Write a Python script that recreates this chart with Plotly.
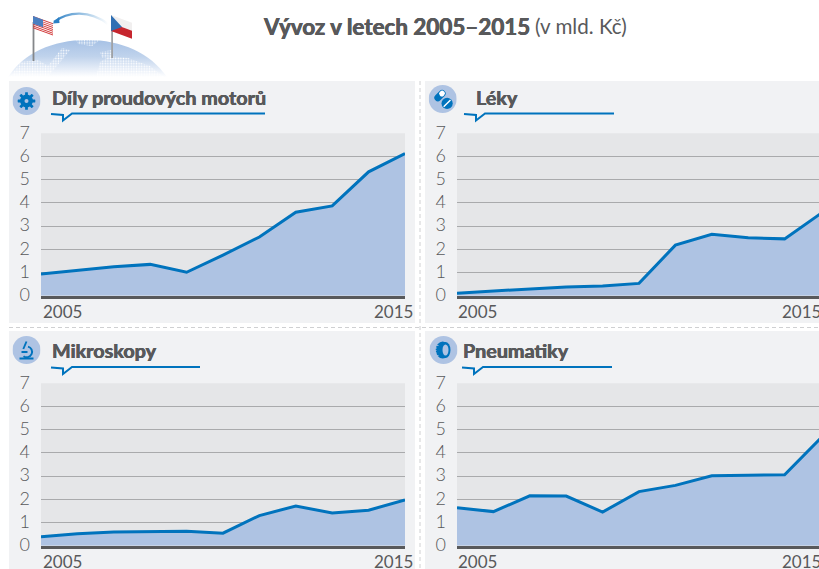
import base64
import plotly.graph_objects as go

years = list(range(2005, 2016))
y_ticks = [0, 1, 2, 3, 4, 5, 6, 7]
titles = ["Díly proudových motorů", "Léky", "Mikroskopy", "Pneumatiky"]
motory = [0.93, 1.09, 1.25, 1.35, 1.01, 1.75, 2.53, 3.60, 3.87, 5.34, 6.13]
leky = [0.11, 0.20, 0.28, 0.38, 0.42, 0.53, 2.18, 2.65, 2.50, 2.45, 3.55]
mikroskopy = [0.38, 0.52, 0.59, 0.62, 0.62, 0.54, 1.30, 1.71, 1.41, 1.53, 1.97]
pneumatiky = [1.64, 1.47, 2.15, 2.14, 1.45, 2.33, 2.60, 3.01, 3.04, 3.06, 4.65]
series = [motory, leky, mikroskopy, pneumatiky]

W, H = 819, 569
FONT = "Lato"
GREY = "#58595b"
BLUE = "#0073bd"
AREA = "#aec3e3"
PANEL = "#f1f2f4"
PLOT = "#e5e6e8"
STEP = 36.4
HEAVY = f"0.35px 0 0 {GREY}, -0.35px 0 0 {GREY}"


def px(v):
    return v / W


def py(v):
    return 1 - v / H


def uri(svg):
    return "data:image/svg+xml;base64," + base64.b64encode(svg.encode()).decode()


def icon(body):
    return uri(
        f'<svg xmlns="http://www.w3.org/2000/svg" width="56" height="56" viewBox="0 0 28 28">'
        f'<circle cx="14" cy="14" r="14" fill="{AREA}"/>{body}</svg>'
    )


gear = (
    f'<g fill="{BLUE}"><circle cx="14" cy="14" r="6.4"/>'
    + "".join(
        f'<rect x="12.6" y="5.2" width="2.8" height="17.6" rx="0.4" transform="rotate({a} 14 14)"/>'
        for a in (0, 45, 90, 135)
    )
    + f'</g><circle cx="14" cy="14" r="2" fill="{AREA}"/>'
)
pills = (
    f'<g transform="rotate(-45 11 11)"><rect x="5" y="7.4" width="13" height="7" rx="3.5" fill="{BLUE}"/>'
    f'<rect x="11.5" y="8.2" width="5.8" height="5.4" rx="2.6" fill="#fff"/></g>'
    f'<circle cx="18.4" cy="18.4" r="5.6" fill="{BLUE}"/>'
    f'<path d="M15 21.8 L21.8 15" stroke="#fff" stroke-width="1.4"/>'
)
scope = (
    f'<g fill="none" stroke="{BLUE}" stroke-width="1.9"><path d="M7 22.5H21"/>'
    f'<path d="M15.5 10.6a5.4 5.4 0 1 1 -4.5 9.6"/><path d="M14 5.5 L10.8 13"/>'
    f'<path d="M9 16H15"/></g>'
)
tire = (
    f'<ellipse cx="13.2" cy="14" rx="7" ry="8.6" fill="{BLUE}"/>'
    f'<ellipse cx="15.8" cy="14" rx="5.2" ry="8" fill="{BLUE}"/>'
    f'<ellipse cx="16" cy="14" rx="3" ry="5.6" fill="{AREA}"/>'
    f'<path d="M9 9.5 L7 9.5 M7.5 12 H5.5 M7 14.5 H5.5 M7.5 17 H5.5 M9 19.5 H7" stroke="{AREA}" stroke-width="0.8"/>'
)

stripes = "".join(
    f'<rect x="0" y="{i * 1.85:.2f}" width="20" height="0.93" fill="#d23b3b"/>' for i in range(7)
)
logo_svg = f'''<svg xmlns="http://www.w3.org/2000/svg" width="170" height="80" viewBox="0 0 170 80">
<defs>
<linearGradient id="g" x1="0" y1="0" x2="0" y2="1"><stop offset="0" stop-color="#a6c1e5"/><stop offset="0.45" stop-color="#c0d3ec"/><stop offset="0.82" stop-color="#eaf0f9"/><stop offset="1" stop-color="#ffffff"/></linearGradient>
<linearGradient id="a" x1="0" y1="0" x2="1" y2="0"><stop offset="0" stop-color="#2b7fc4"/><stop offset="1" stop-color="#2b7fc4" stop-opacity="0"/></linearGradient>
<pattern id="d" width="2.6" height="2.6" patternUnits="userSpaceOnUse"><circle cx="1.3" cy="1.3" r="0.8" fill="#fff"/></pattern>
<clipPath id="c"><path d="M8 77 C24 53 52 40 87 40 C122 40 150 53 167 77 Z"/></clipPath>
</defs>
<path d="M8 77 C24 53 52 40 87 40 C122 40 150 53 167 77 Z" fill="url(#g)"/>
<g clip-path="url(#c)" fill="url(#d)">
<path d="M10 78 L20 62 L38 60 L48 66 L62 48 L70 50 L62 60 L50 74 L46 78 Z"/>
<path d="M96 78 L100 62 L110 56 L128 58 L150 66 L165 78 Z"/>
<path d="M76 40 L100 40 L92 46 L78 44 Z"/>
<path d="M100 52 L112 50 L112 58 L102 58 Z"/>
</g>
<rect x="32.6" y="22" width="1.8" height="39" fill="#85878a"/>
<rect x="111.2" y="18" width="1.8" height="40" fill="#a0a2a5"/>
<g transform="translate(33 16) skewY(20) scale(1 1.02)">{stripes}<rect x="0" y="0" width="10" height="7.5" fill="#4a7fc0"/></g>
<g transform="translate(111 15) skewY(20)"><rect width="21" height="8" fill="#f1efef"/><rect y="8" width="21" height="8" fill="#c6262e"/><path d="M0 0 L11 8 L0 16 Z" fill="#2f6fb3"/></g>
<path d="M54 22 C68 11 90 10 108 24" fill="none" stroke="url(#a)" stroke-width="2.4"/>
<path d="M52.5 23.5 L59 17 L59.5 23 Z" fill="#2b7fc4"/>
</svg>'''

# panel geometry: x0 of plot, x1 of axes, top and zero-line y, in page pixels
plots = [(41, 405, 133.3, 295.7), (457, 819, 133.3, 295.7), (41, 405, 383.3, 545.7), (457, 819, 383.3, 545.7)]
panels = [(9, 415, 81, 323), (425, 819, 81, 323), (9, 415, 331, 569), (425, 819, 331, 569)]
rules = [(51, 265, 113.5), (464, 614, 113.5), (51, 200, 367), (462, 612, 367)]
title_x = [50, 473.5, 50, 461]
title_y = [97, 97, 350, 350]
icons = [(26.5, 101, gear), (442.7, 99, pills), (26.5, 350, scope), (443.5, 350, tire)]
y2005 = [311, 311, 561, 561]
x2005 = [41, 456, 41, 456]
x2015 = [372, 780, 372, 780]

fig = go.Figure()
shapes, annos, images = [], [], []

for x0, x1, y0, y1 in panels:
    shapes.append(dict(type="rect", xref="paper", yref="paper", layer="below", x0=px(x0), x1=px(x1),
                       y0=py(y1), y1=py(y0), fillcolor=PANEL, line_width=0))
for x0, x1, y0, y1 in plots:
    shapes.append(dict(type="rect", xref="paper", yref="paper", layer="below", x0=px(x0), x1=px(x1),
                       y0=py(y1), y1=py(y0), fillcolor=PLOT, line_width=0))
for a, b, c, d in [(420, 420, 81, 569), (9, 819, 327.5, 327.5)]:
    shapes.append(dict(type="line", xref="paper", yref="paper", layer="below", x0=px(a), x1=px(b),
                       y0=py(c), y1=py(d), line=dict(color="#cfd0d2", width=1, dash="4px,3px")))

for i, vals in enumerate(series):
    n = "" if i == 0 else str(i + 1)
    x0, x1, top, zero = plots[i]
    fig.add_trace(go.Scatter(x=years, y=vals, xaxis=f"x{n}", yaxis=f"y{n}", mode="lines", fill="tozeroy",
                             fillcolor=AREA, line=dict(color=BLUE, width=3), cliponaxis=False,
                             hoverinfo="skip", showlegend=False))
    fig.update_layout({
        f"xaxis{n}": dict(domain=[px(x0), px(x1)], range=[2005, 2005 + (x1 - x0) / STEP], anchor=f"y{n}",
                          showgrid=False, zeroline=False, showticklabels=False, ticks="", showline=True,
                          linecolor=GREY, linewidth=3, fixedrange=True, automargin=False),
        f"yaxis{n}": dict(domain=[py(zero), py(top)], range=[0, 7], anchor=f"x{n}", tickvals=y_ticks,
                          showgrid=True, gridcolor="#a9aaac", gridwidth=1, zeroline=False, showline=False,
                          ticks="", ticklabelstandoff=10, ticklabelshift=-1, fixedrange=True, automargin=False,
                          tickfont=dict(family=FONT, size=18, color=GREY, weight=300)),
    })
    annos.append(dict(xref="paper", yref="paper", x=px(title_x[i]), y=py(title_y[i]), text=titles[i],
                      xanchor="left", yanchor="middle", showarrow=False,
                      font=dict(family=FONT, size=19.8, color=GREY, weight=700, shadow=HEAVY)))
    for txt, tx in ((str(years[0]), x2005[i]), (str(years[-1]), x2015[i])):
        annos.append(dict(xref="paper", yref="paper", x=px(tx), y=py(y2005[i]), text=txt, xanchor="left",
                          yanchor="middle", showarrow=False,
                          font=dict(family=FONT, size=17, color=GREY, weight=400)))
    ra, rb, ry = rules[i]
    shapes.append(dict(type="path", xref="paper", yref="paper",
                       path=f"M{px(ra)},{py(ry + .5)} L{px(ra + 12)},{py(ry + 1.5)} L{px(ra + 12)},{py(ry + 7)} "
                            f"L{px(ra + 21)},{py(ry)} L{px(rb)},{py(ry)}",
                       line=dict(color=BLUE, width=2)))
    cx, cy, glyph = icons[i]
    images.append(dict(source=icon(glyph), xref="paper", yref="paper", x=px(cx - 14), y=py(cy - 14),
                       sizex=28 / W, sizey=28 / H, sizing="stretch", xanchor="left", yanchor="top", layer="above"))

images.append(dict(source=uri(logo_svg), xref="paper", yref="paper", x=0, y=1, sizex=170 / W, sizey=80 / H,
                   sizing="stretch", xanchor="left", yanchor="top", layer="above"))

annos.append(dict(xref="paper", yref="paper", x=px(260.5), y=py(26), xanchor="left", yanchor="middle", showarrow=False,
                  text="Vývoz v letech 2005–2015",
                  font=dict(family=FONT, size=22.4, color=GREY, weight=700, shadow=HEAVY)))
annos.append(dict(xref="paper", yref="paper", x=px(533), y=py(26), xanchor="left", yanchor="middle", showarrow=False,
                  text="(v mld. Kč)", font=dict(family=FONT, size=20.6, color=GREY)))

fig.update_layout(width=W, height=H, margin=dict(l=0, r=0, t=0, b=0, autoexpand=False), paper_bgcolor="#ffffff",
                  plot_bgcolor="rgba(0,0,0,0)", shapes=shapes, annotations=annos, images=images,
                  showlegend=False, font=dict(family=FONT))
fig.write_html("out.html", config={"displayModeBar": False}, post_script="document.body.style.margin='0';")
